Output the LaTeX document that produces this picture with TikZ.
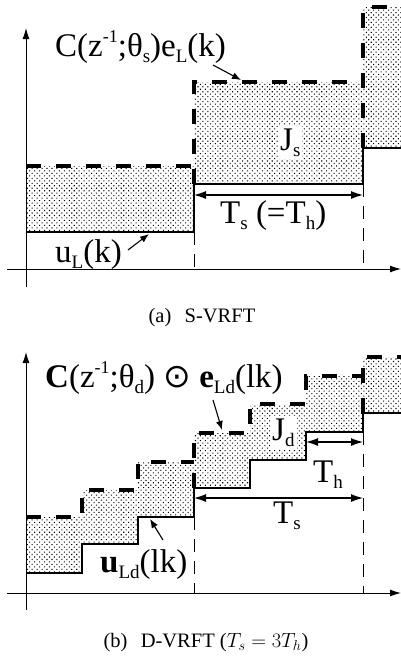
\RequirePackage{fix-cm}
\documentclass[tikz,border=0pt]{standalone}
\usepackage{fontspec}
\setmainfont{Liberation Serif}
\newfontfamily\symfnt{DejaVu Sans}
\usetikzlibrary{arrows.meta,patterns.meta}
\newcommand\sbs[1]{\raisebox{-0.2em}{\fontsize{19}{19}\selectfont #1}}
\newcommand\sps[1]{\raisebox{0.42em}{\fontsize{18}{18}\selectfont #1}}
\begin{document}
\begin{tikzpicture}[x=1pt,y=-1pt,
  axis/.style={line width=1pt,-{Latex[length=11pt,width=7pt]}},
  ustep/.style={line width=1.4pt},
  cstep/.style={line width=3.4pt,dash pattern=on 15pt off 15pt},
  guide/.style={line width=1pt,dash pattern=on 13pt off 9pt},
  dimarrow/.style={line width=1.1pt,{Latex[length=12pt,width=8pt]}-{Latex[length=12pt,width=8pt]}},
  pointer/.style={line width=1.1pt,-{Latex[length=9pt,width=7pt]}},
  shade/.style={pattern={Dots[radius=0.75pt,distance=3.5pt,angle=45]},pattern color=black},
  lab/.style={inner sep=0pt,anchor=base west,font=\fontsize{33}{36}\selectfont},
  wlab/.style={lab,fill=white,inner sep=2pt},
  capt/.style={inner sep=0pt,anchor=base,font=\fontsize{20.5}{24}\selectfont}]
\useasboundingbox (0,0) rectangle (401,656);

% ---------------- (a) S-VRFT ----------------
\fill[shade] (26,166) rectangle (194,232);
\fill[shade] (194,82) rectangle (363,184);
\fill[shade] (363,7) rectangle (401,148);

\coordinate (ay0) at (26,287);
\coordinate (ay1) at (26,28);
\coordinate (ax0) at (7,269);
\coordinate (ax1) at (401,269);
\draw[axis] (ay0) -- (ay1);
\draw[axis] (ax0) -- (ax1);

\draw[ustep] (26,232) -- (194,232) -- (194,184) -- (363,184) -- (363,148) -- (401,148);
\draw[cstep] (26,166) -- (194,166);
\draw[cstep] (194,184) -- (194,82) -- (363,82);
\draw[cstep] (363,148) -- (363,7) -- (401,7);
\draw[guide] (194,232) -- (194,269);
\draw[guide] (363,184) -- (363,269);

\coordinate (tsa) at (194,195);
\coordinate (tsb) at (363,195);
\draw[dimarrow] (tsa) -- (tsb);

\node[lab] (clab) at (55,56) {C(z\sps{-1};θ\sbs{s})e\sbs{L}(k)};
\coordinate (ctip) at (241,80);
\draw[pointer] (213,65) -- (ctip);

\node[wlab] (js) at (278,150) {J\sbs{s}};
\node[lab] (tslab) at (220,223) {T\sbs{s} (=T\sbs{h})};

\node[lab] (ulab) at (55,262) {u\sbs{L}(k)};
\coordinate (utip) at (149,234);
\draw[pointer] (128,250) -- (utip);

\node[capt] (capa) at (202,322) {(a)\hspace{0.4em} S-VRFT};

% ---------------- (b) D-VRFT ----------------
\fill[shade] (26,517) rectangle (82,573);
\fill[shade] (82,490) rectangle (138,544);
\fill[shade] (138,462) rectangle (194,517);
\fill[shade] (194,433) rectangle (250,488);
\fill[shade] (250,404) rectangle (306,460);
\fill[shade] (306,376) rectangle (363,432);
\fill[shade] (363,357) rectangle (401,413);

\coordinate (by0) at (26,610);
\coordinate (by1) at (26,352);
\coordinate (bx0) at (7,593);
\coordinate (bx1) at (401,593);
\draw[axis] (by0) -- (by1);
\draw[axis] (bx0) -- (bx1);

\draw[ustep] (26,573) -- (82,573) -- (82,544) -- (138,544) -- (138,517) -- (194,517)
  -- (194,488) -- (250,488) -- (250,460) -- (306,460) -- (306,432) -- (363,432)
  -- (363,413) -- (401,413);
\draw[cstep] (26,517) -- (82,517) -- (82,490) -- (138,490) -- (138,462) -- (194,462);
\draw[cstep] (194,488) -- (194,433) -- (250,433) -- (250,404) -- (306,404) -- (306,376) -- (363,376);
\draw[cstep] (363,413) -- (363,357) -- (401,357);
\draw[guide] (194,517) -- (194,593);
\draw[guide] (363,432) -- (363,593);

\coordinate (tha) at (306,442);
\coordinate (thb) at (363,442);
\draw[dimarrow] (tha) -- (thb);
\coordinate (tsc) at (194,498);
\coordinate (tsd) at (363,498);
\draw[dimarrow] (tsc) -- (tsd);

\node[lab] (cdlab) at (45,387) {\textbf{C}(z\sps{-1};θ\sbs{d}) {\symfnt ⊙} \textbf{e}\sbs{Ld}(lk)};
\coordinate (cdtip) at (222,430);
\draw[pointer] (213,400) -- (cdtip);

\node[wlab] (jd) at (270,440) {J\sbs{d}};
\node[lab] (thlab) at (313,482) {T\sbs{h}};
\node[lab] (tslab2) at (273,523) {T\sbs{s}};

\node[lab] (udlab) at (100,572) {\textbf{u}\sbs{Ld}(lk)};
\coordinate (udtip) at (150,519);
\draw[pointer] (163,540) -- (udtip);

\node[capt] (capb) at (206,647) {(b)\hspace{0.4em} D-VRFT ($T_s = 3T_h$)};
\end{tikzpicture}
\end{document}
